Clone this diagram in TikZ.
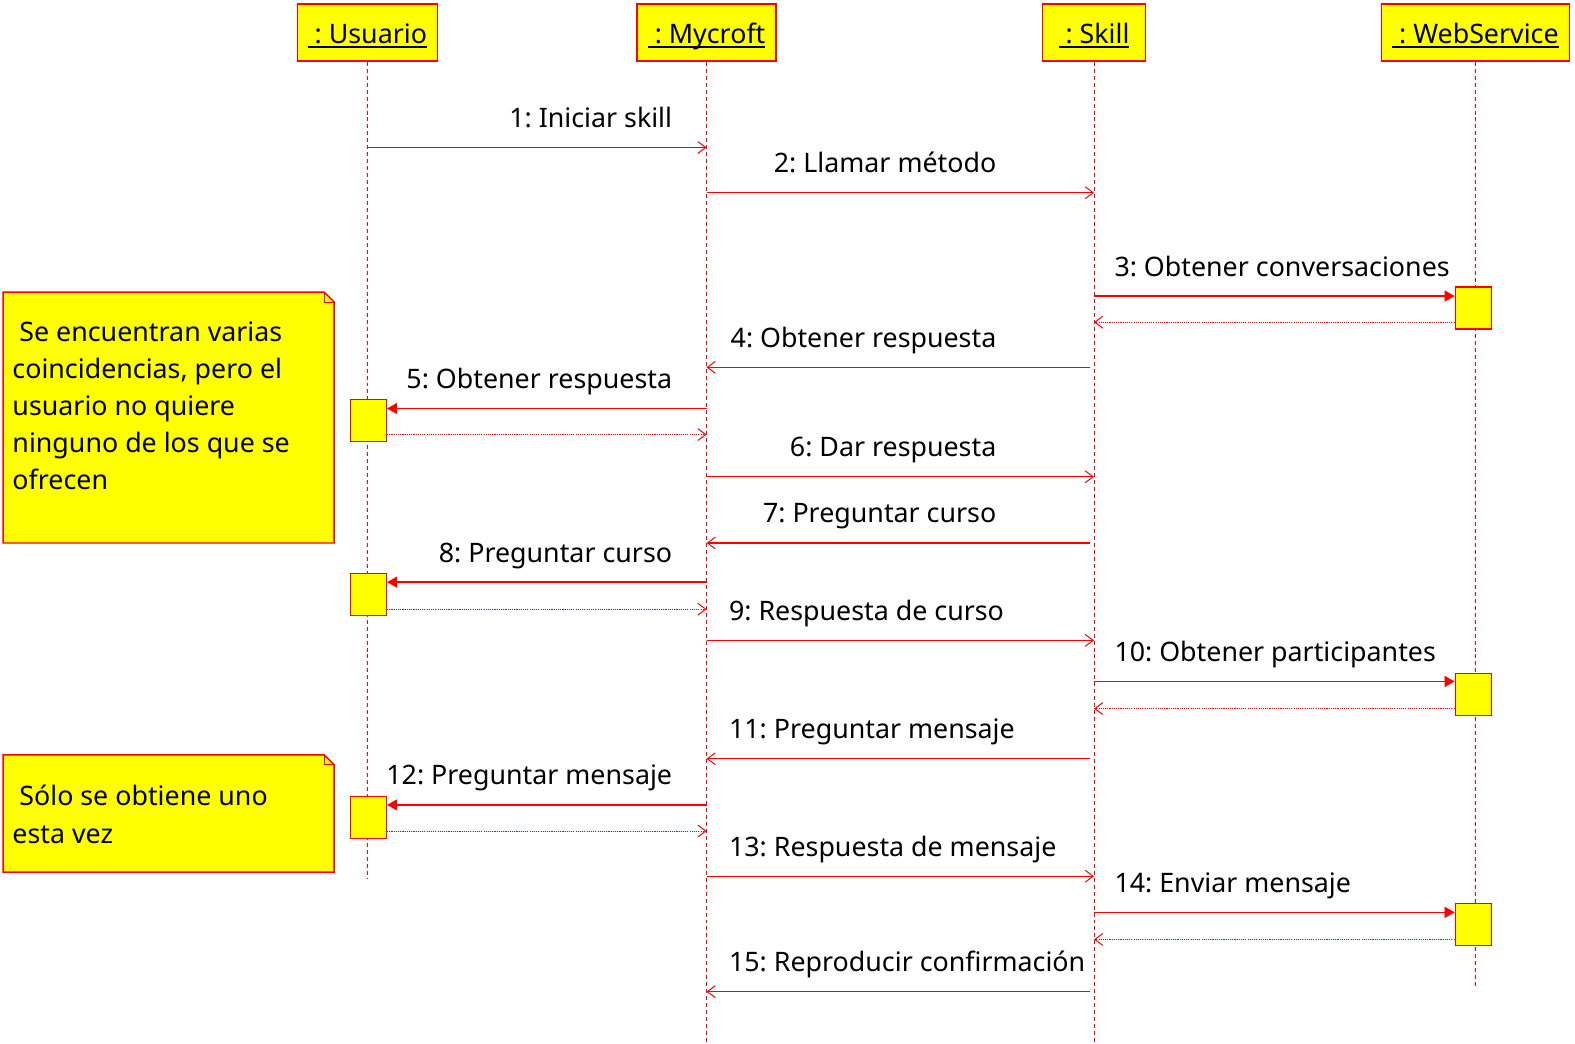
\documentclass[tikz,border=0pt]{standalone}
\usepackage{fontspec}
\setmainfont{Noto Sans}
\usetikzlibrary{arrows.meta}
\definecolor{umlred}{RGB}{255,0,0}
\definecolor{umlyellow}{RGB}{255,255,0}
\newcommand\objname[1]{{\setbox0=\hbox{#1}\rlap{\rule[-2.2pt]{\wd0}{1pt}}\box0}}
\frenchspacing
\begin{document}
\begin{tikzpicture}[x=0.50185bp,y=-0.50185bp,
	every node/.style={font=\fontsize{13.45}{18.65}\selectfont},
	head/.style={draw=umlred,fill=umlyellow,line width=0.75pt,minimum height=28.6bp,inner sep=0pt,text height=13bp,text depth=1.5bp,anchor=north},
	lifeline/.style={draw=umlred,line width=0.5pt,dash pattern=on 2pt off 1.5pt},
	act/.style={draw=umlred,fill=umlyellow,line width=0.75pt,minimum width=18bp,minimum height=21bp,inner sep=0pt},
	call/.style={umlred,line width=0.65pt,-{Triangle[length=5pt,width=5.5pt]}},
	msg/.style={umlred,line width=0.65pt,-{Straight Barb[length=4pt,width=6pt,line width=0.5pt]}},
	ret/.style={umlred,line width=0.55pt,dash pattern=on 0.55pt off 0.55pt,-{Straight Barb[length=4pt,width=6pt,line width=0.5pt]}},
	lbl/.style={inner sep=0pt},
	note/.style={draw=umlred,fill=umlyellow,line width=0.75pt}]
	\useasboundingbox (0bp,0bp) rectangle (787.5bp,-522bp);
	% objects
	\node[head,minimum width=70bp] (usr) at (366,3) {\objname{\ : Usuario}};
	\node[head,minimum width=69.5bp] (myc) at (704,3) {\objname{\ : Mycroft}};
	\node[head,minimum width=51.5bp] (skl) at (1090,3) {\objname{\ : Skill}};
	\node[head,minimum width=94bp] (web) at (1470,3) {\objname{\ : WebService}};
	\draw[lifeline] (usr.south) -- (usr.south |- 0,875);
	\draw[lifeline] (myc.south) -- (myc.south |- 0,1044);
	\draw[lifeline] (skl.south) -- (skl.south |- 0,1044);
	\draw[lifeline] (web.south) -- (web.south |- 0,982);
	% activations
	\node[act] (a3) at (1468,307) {};
	\node[act] (a5) at (367,419) {};
	\node[act] (a8) at (367,592.5) {};
	\node[act] (a10) at (1468,692) {};
	\node[act] (a12) at (367,814.5) {};
	\node[act] (a14) at (1468,921) {};
	% messages
	\draw[msg] (usr.south |- 0,147) -- (myc.south |- 0,147);
	\node[lbl,anchor=base east] (l1) at (670,127) {1: Iniciar skill};
	\draw[msg] (myc.south |- 0,192) -- (skl.south |- 0,192);
	\node[lbl,anchor=base east] (l2) at (993,172) {2: Llamar método};
	\draw[call] (skl.south |- 0,295) -- (a3.west |- 0,295);
	\node[lbl,anchor=base west] (l3) at (1110,275) {3: Obtener conversaciones};
	\draw[ret] (a3.west |- 0,321) -- (skl.south |- 0,321);
	\draw[msg,shorten <=2pt] (skl.south |- 0,366) -- (myc.south |- 0,366);
	\node[lbl,anchor=base east] (l4) at (993,346) {4: Obtener respuesta};
	\draw[call] (myc.south |- 0,407) -- (a5.east |- 0,407);
	\node[lbl,anchor=base east] (l5) at (670,387) {5: Obtener respuesta};
	\draw[ret] (a5.east |- 0,433) -- (myc.south |- 0,433);
	\draw[msg] (myc.south |- 0,475) -- (skl.south |- 0,475);
	\node[lbl,anchor=base east] (l6) at (993,455) {6: Dar respuesta};
	\draw[msg,shorten <=2pt] (skl.south |- 0,541) -- (myc.south |- 0,541);
	\node[lbl,anchor=base east] (l7) at (993,521) {7: Preguntar curso};
	\draw[call] (myc.south |- 0,580) -- (a8.east |- 0,580);
	\node[lbl,anchor=base east] (l8) at (670,560) {8: Preguntar curso};
	\draw[ret] (a8.east |- 0,607) -- (myc.south |- 0,607);
	\draw[msg] (myc.south |- 0,638) -- (skl.south |- 0,638);
	\node[lbl,anchor=base west] (l9) at (726,618) {9: Respuesta de curso};
	\draw[call] (skl.south |- 0,679) -- (a10.west |- 0,679);
	\node[lbl,anchor=base west] (l10) at (1110,659) {10: Obtener participantes};
	\draw[ret] (a10.west |- 0,706) -- (skl.south |- 0,706);
	\draw[msg,shorten <=2pt] (skl.south |- 0,756) -- (myc.south |- 0,756);
	\node[lbl,anchor=base west] (l11) at (726,736) {11: Preguntar mensaje};
	\draw[call] (myc.south |- 0,802) -- (a12.east |- 0,802);
	\node[lbl,anchor=base east] (l12) at (670,782) {12: Preguntar mensaje};
	\draw[ret] (a12.east |- 0,828) -- (myc.south |- 0,828);
	\draw[msg] (myc.south |- 0,873) -- (skl.south |- 0,873);
	\node[lbl,anchor=base west] (l13) at (726,853) {13: Respuesta de mensaje};
	\draw[call] (skl.south |- 0,909) -- (a14.west |- 0,909);
	\node[lbl,anchor=base west] (l14) at (1110,889) {14: Enviar mensaje};
	\draw[ret] (a14.west |- 0,936) -- (skl.south |- 0,936);
	\draw[msg,shorten <=2pt] (skl.south |- 0,988) -- (myc.south |- 0,988);
	\node[lbl,anchor=base west] (l15) at (726,968) {15: Reproducir confirmación};
	% notes
	\draw[note] (3,291) -- (323,291) -- (333,301) -- (333,541) -- (3,541) -- cycle;
	\draw[umlred,line width=0.5pt] (323,291) -- (323,301) -- (333,301);
	\node[lbl,anchor=base west,align=left] (n1) at (12,488) {\ Se encuentran varias\\coincidencias, pero el\\usuario no quiere\\ninguno de los que se\\ofrecen};
	\draw[note] (3,752) -- (323,752) -- (333,762) -- (333,869) -- (3,869) -- cycle;
	\draw[umlred,line width=0.5pt] (323,752) -- (323,762) -- (333,762);
	\node[lbl,anchor=base west,align=left] (n2) at (12,840) {\ Sólo se obtiene uno\\esta vez};
\end{tikzpicture}
\end{document}
